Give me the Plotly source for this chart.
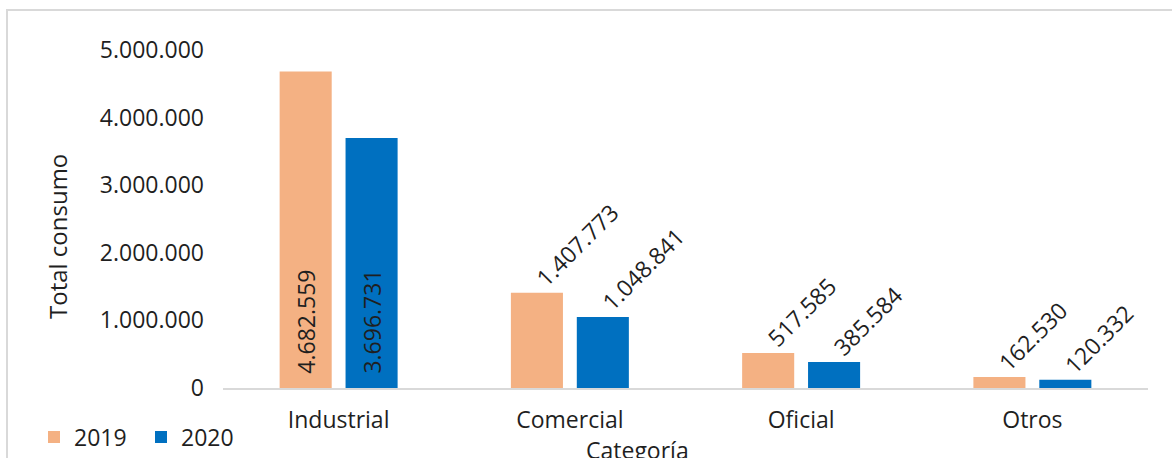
import plotly.graph_objects as go

categories = ["Industrial", "Comercial", "Oficial", "Otros"]
years = ["2019", "2020"]
values_2019 = [4682559, 1407773, 517585, 162530]
values_2020 = [3696731, 1048841, 385584, 120332]
y_ticks = [0, 1000000, 2000000, 3000000, 4000000, 5000000]

colors = {"2019": "#F4B183", "2020": "#0070C0"}
FONT = "Open Sans"
FS = 23
TXT = "#1f1f1f"

W, H = 1172, 458
ML, MR, MT, MB = 223, 24, 50, 70
BARGAP = 0.43
BARGROUPGAP = 0.21


def fmt(v):
    return f"{v:,}".replace(",", ".")


fig = go.Figure()
series = {"2019": values_2019, "2020": values_2020}
for yr in years:
    fig.add_trace(go.Bar(
        name=yr, x=list(range(len(categories))), y=series[yr],
        marker=dict(color=colors[yr], line=dict(width=0)),
    ))

# bar centre offsets (in category units) for the two grouped series
half = (1 - BARGAP) / 4
offsets = {"2019": -half, "2020": half}

annotations = []
for yr in years:
    for i, v in enumerate(series[yr]):
        xc = i + offsets[yr]
        if i == 0:
            annotations.append(dict(
                x=xc, y=0, xref="x", yref="y", text=fmt(v), showarrow=False,
                textangle=-90, xanchor="center", yanchor="bottom", yshift=12,
                font=dict(family=FONT, size=FS, color=TXT)))
        else:
            annotations.append(dict(
                x=xc, y=v, xref="x", yref="y", text=fmt(v), showarrow=False,
                textangle=-45, xanchor="left", yanchor="bottom", xshift=-11, yshift=-3,
                font=dict(family=FONT, size=FS, color=TXT)))

pw = W - ML - MR
ph = H - MT - MB


def px_x(p):
    return (p - ML) / pw


def px_y(p):
    return (H - MB - p) / ph


annotations.append(dict(
    x=px_x(57), y=px_y(237), xref="paper", yref="paper", text="Total consumo",
    showarrow=False, textangle=-90, xanchor="center", yanchor="middle",
    font=dict(family=FONT, size=24, color=TXT)))
annotations.append(dict(
    x=px_x(637), y=px_y(432), xref="paper", yref="paper", text="Categoría",
    showarrow=False, xanchor="center", yanchor="top",
    font=dict(family=FONT, size=FS, color=TXT)))

fig.update_layout(
    width=W, height=H,
    margin=dict(l=ML, r=MR, t=MT, b=MB, autoexpand=False),
    paper_bgcolor="white", plot_bgcolor="white",
    barmode="group", bargap=BARGAP, bargroupgap=BARGROUPGAP,
    font=dict(family=FONT, size=FS, color=TXT),
    showlegend=True,
    legend=dict(orientation="h", x=px_x(34), y=px_y(437), xanchor="left", yanchor="middle",
                font=dict(family=FONT, size=FS, color=TXT), bgcolor="rgba(0,0,0,0)",
                itemwidth=30, tracegroupgap=0, entrywidth=62),
    xaxis=dict(
        tickmode="array", tickvals=list(range(len(categories))), ticktext=categories,
        range=[-0.5, len(categories) - 0.5],
        showline=True, linecolor="#d9d9d9", linewidth=2, showgrid=False, zeroline=False,
        ticks="", ticklabelstandoff=10,
        tickfont=dict(family=FONT, size=FS, color=TXT),
    ),
    yaxis=dict(
        range=[0, 5000000], tickvals=y_ticks, ticktext=[fmt(t) for t in y_ticks],
        showline=False, showgrid=False, zeroline=False, ticks="", ticklabelstandoff=18,
        tickfont=dict(family=FONT, size=FS, color=TXT),
    ),
    annotations=annotations,
    shapes=[dict(type="rect", xref="paper", yref="paper",
                 x0=px_x(7), x1=px_x(W + 20), y0=px_y(H + 20), y1=px_y(10),
                 line=dict(color="#d9d9d9", width=2), fillcolor="rgba(0,0,0,0)", layer="below")],
)

fig.write_html("out.html", config={"displayModeBar": False},
               post_script="document.body.style.margin='0';document.body.style.overflow='hidden';")
